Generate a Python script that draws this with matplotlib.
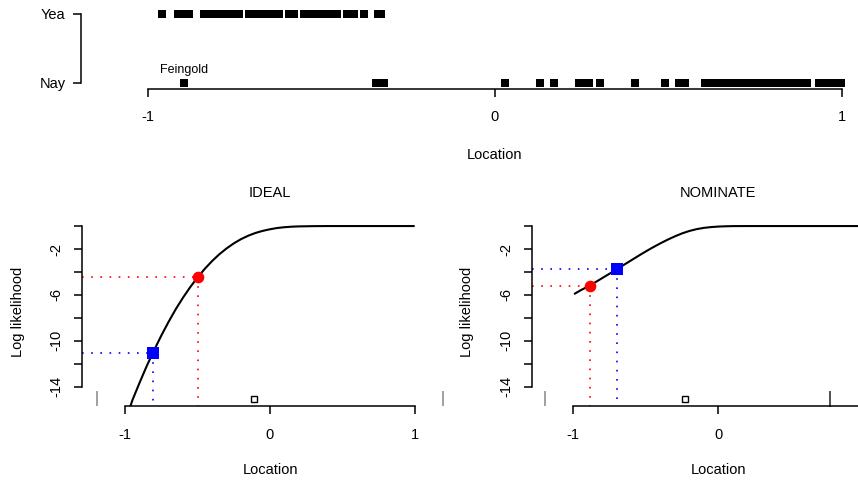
import matplotlib
matplotlib.use("Agg")
import matplotlib.pyplot as plt

plt.rcParams["font.family"] = ["Liberation Sans", "DejaVu Sans"]
plt.rcParams["font.size"] = 10.5
plt.rcParams["axes.unicode_minus"] = False

# top strip: legislator locations split by vote
yea_locs = [-0.957,
            -0.913, -0.902, -0.891, -0.880,
            -0.837, -0.826, -0.815, -0.804, -0.793, -0.781, -0.770, -0.759, -0.748, -0.736,
            -0.707, -0.695, -0.683, -0.671, -0.659, -0.646, -0.633, -0.621,
            -0.592, -0.577,
            -0.549, -0.537, -0.525, -0.513, -0.501, -0.489, -0.477, -0.465, -0.453,
            -0.424, -0.404, -0.375, -0.337, -0.328]
nay_locs = [-0.895, -0.342, -0.331, -0.320, 0.030, 0.130, 0.171,
            0.244, 0.258, 0.273, 0.303, 0.405, 0.491, 0.530, 0.549,
            0.607, 0.618, 0.629, 0.640, 0.651, 0.662, 0.673, 0.684, 0.695, 0.706,
            0.717, 0.728, 0.739, 0.750, 0.761, 0.772, 0.783, 0.794, 0.805, 0.816,
            0.827, 0.838, 0.849, 0.860, 0.871, 0.882, 0.893, 0.901,
            0.935, 0.946, 0.957, 0.968, 0.979, 0.990, 0.999]
feingold_loc = -0.895
vote_labels = ["Nay", "Yea"]
loc_ticks = [-1, 0, 1]

# log likelihood curves
ideal_x = [-0.975, -0.95, -0.90, -0.85, -0.80, -0.75, -0.70, -0.65, -0.60, -0.55,
           -0.50, -0.45, -0.40, -0.35, -0.30, -0.25, -0.20, -0.15, -0.10, -0.05,
           0.00, 0.05, 0.10, 0.15, 0.20, 0.30, 0.40, 1.00]
ideal_ll = [-16.1, -15.15, -13.62, -12.15, -10.80, -9.52, -8.33, -7.22, -6.22, -5.30,
            -4.47, -3.72, -3.05, -2.46, -1.95, -1.51, -1.14, -0.84, -0.60, -0.42,
            -0.28, -0.17, -0.10, -0.055, -0.03, -0.008, 0.0, 0.0]
nom_x = [-0.995, -0.95, -0.90, -0.85, -0.80, -0.75, -0.70, -0.65, -0.60, -0.55,
         -0.50, -0.45, -0.40, -0.35, -0.30, -0.25, -0.20, -0.15, -0.10, -0.05,
         0.00, 0.05, 0.10, 0.20, 1.10]
nom_ll = [-5.93, -5.60, -5.27, -4.91, -4.53, -4.15, -3.77, -3.37, -2.98, -2.59,
          -2.21, -1.85, -1.51, -1.19, -0.90, -0.64, -0.43, -0.27, -0.16, -0.09,
          -0.045, -0.02, -0.005, 0.0, 0.0]
ll_ticks = [0, -2, -4, -6, -8, -10, -12, -14]
ll_labels = ["", "-2", "", "-6", "", "-10", "", "-14"]

# Feingold's estimate (red) and the other model's estimate (blue)
ideal_red = (-0.496, -4.41)
ideal_blue = (-0.811, -11.09)
nom_red = (-0.885, -5.22)
nom_blue = (-0.697, -3.77)
ideal_open = (-0.11, -15.08)
nom_open = (-0.23, -15.08)
ideal_rug = [-1.198, 1.198]
nom_rug = [-1.195]
nom_rug_dark = [0.768]

W, H = 858, 482
fig = plt.figure(figsize=(W / 100, H / 100), dpi=100)


def box(l, t, r, b):
    return [l / W, 1 - b / H, (r - l) / W, (b - t) / H]


def r_style(ax):
    for s in ["top", "right"]:
        ax.spines[s].set_visible(False)
    for s in ["left", "bottom"]:
        ax.spines[s].set_linewidth(1.1)
    ax.tick_params(length=6, width=1.1, color="black")


# ---- top strip
ax0 = fig.add_axes(box(80.7, 5, 850, 88.5))
r_style(ax0)
ax0.set_xlim(-1.1925, 1.024)
ax0.set_ylim(-0.08, 1.13)
ax0.plot(yea_locs, [1] * len(yea_locs), "s", color="black", ms=6.2, mew=0)
ax0.plot(nay_locs, [0] * len(nay_locs), "s", color="black", ms=6.2, mew=0)
ax0.annotate("Feingold", (feingold_loc, 0), xytext=(0, 9), textcoords="offset points",
             ha="center", va="center", fontsize=9)
ax0.spines["bottom"].set_bounds(-1, 1)
ax0.spines["left"].set_bounds(0, 1)
ax0.set_xticks(loc_ticks)
ax0.set_xticklabels([str(t) for t in loc_ticks])
ax0.set_yticks([0, 1])
ax0.set_yticklabels(vote_labels)
ax0.tick_params(axis="x", pad=9.5)
ax0.tick_params(axis="y", pad=5)
fig.text(494 / W, 1 - 155 / H, "Location", ha="center", va="center")

# ---- bottom panels (the NOMINATE one runs off the right edge, so its "1" is not shown)
panels = [
    ("IDEAL", box(81.7, 220, 416, 406), (-1.301, 1.009), loc_ticks, ideal_x, ideal_ll,
     ideal_red, ideal_blue, ideal_open, ideal_rug, [], 270, 18),
    ("NOMINATE", box(531.7, 220, 870, 406), (-1.287, 1.046), loc_ticks[:2], nom_x, nom_ll,
     nom_red, nom_blue, nom_open, nom_rug, nom_rug_dark, 718.3, 466.7),
]
for (title, rect, xlim, xt, cx, cy, red, blue, opn, rug, rug_dark,
     xc, ylab_x) in panels:
    ax = fig.add_axes(rect)
    r_style(ax)
    ax.set_xlim(*xlim)
    ax.set_ylim(-15.68, 0.527)
    ax.plot(cx, cy, color="black", lw=1.5, solid_capstyle="butt")
    for (px, py), col, mk, ms in [(red, "red", "o", 8.4), (blue, "blue", "s", 8.4)]:
        ax.plot([xlim[0], px], [py, py], color=col, lw=1.2, ls=(0, (1, 4.5)))
        ax.plot([px, px], [py, -15.68], color=col, lw=1.2, ls=(0, (1, 4.5)))
        ax.plot(px, py, mk, color=col, ms=ms, mew=0, zorder=5)
    ax.plot(*opn, "s", ms=4.3, mfc="white", mec="black", mew=1.0)
    for rx in rug:
        ax.plot([rx, rx], [-14.44, -15.6], color="#a0a0a0", lw=1.4, clip_on=False)
    for rx in rug_dark:
        ax.plot([rx, rx], [-14.44, -15.68], color="#505050", lw=1.4, clip_on=False)
    ax.spines["bottom"].set_bounds(-1, 1)
    ax.spines["left"].set_bounds(-14, 0)
    ax.set_xticks(xt)
    ax.set_xticklabels([str(t) for t in xt])
    ax.set_yticks(ll_ticks)
    ax.set_yticklabels(ll_labels)
    for lab in ax.get_yticklabels():
        lab.set_rotation(90)
        lab.set_va("center")
    ax.tick_params(axis="x", pad=10)
    ax.tick_params(axis="y", pad=7)
    fig.text(xc / W, 1 - 193 / H, title, ha="center", va="center")
    fig.text(xc / W, 1 - 470 / H, "Location", ha="center", va="center")
    fig.text(ylab_x / W, 1 - 312 / H, "Log likelihood", ha="center", va="center",
             rotation=90)

fig.savefig("out.png", dpi=100)
